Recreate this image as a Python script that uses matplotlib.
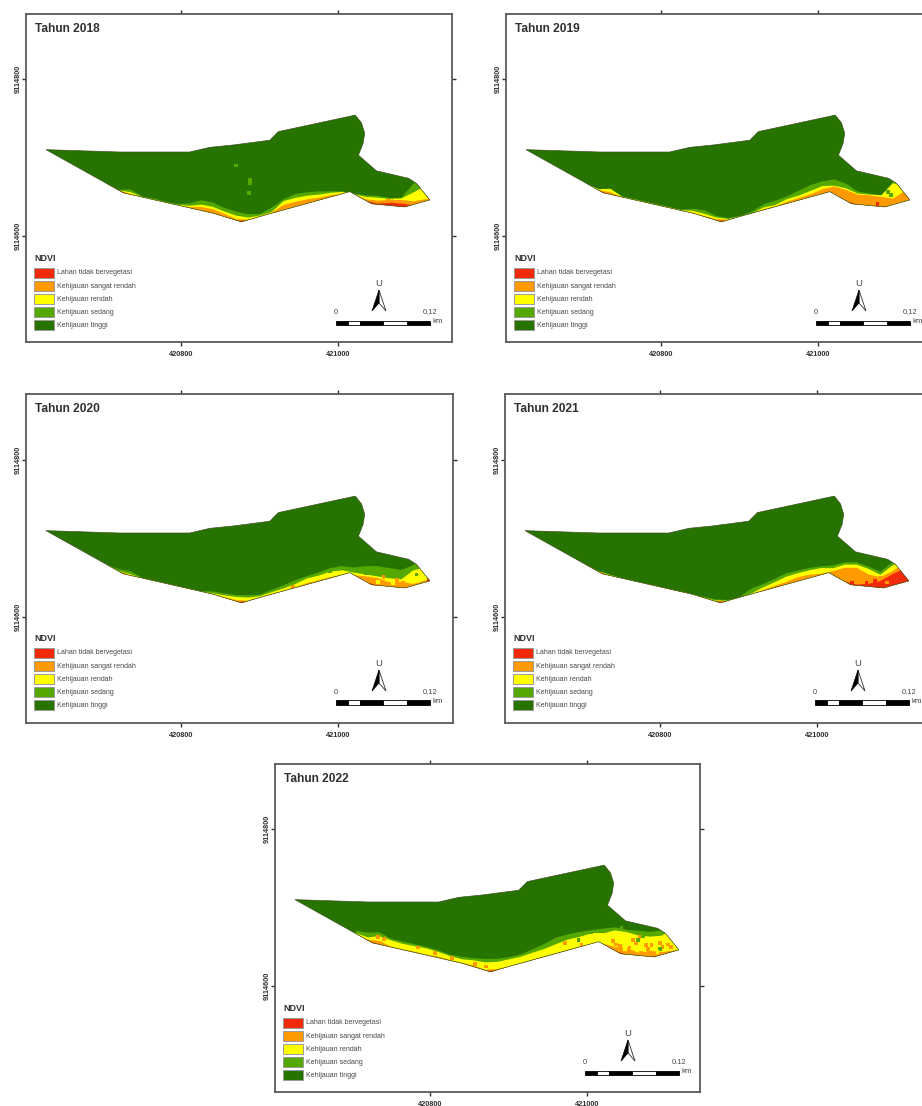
import numpy as np
import matplotlib
matplotlib.use("Agg")
import matplotlib.pyplot as plt
from matplotlib.patches import Polygon, Rectangle

plt.rcParams['font.family'] = ['Liberation Sans', 'DejaVu Sans']

W, H = 922, 1106
E0, N0 = 420000, 9114000

# Site boundary, map metres relative to E0 / N0
boundary_E = [628, 722, 811, 837, 867, 913, 924, 1022, 1030, 1034, 1032, 1026, 1049, 1090,
              1100, 1117, 1085, 1043, 1015, 901, 877, 841, 726.5]
boundary_N = [710, 707, 707, 713, 716, 722, 733, 754, 744, 731, 718, 703, 683, 673.5,
              667, 646, 637, 641, 656.5, 625, 618, 629, 655]
south_E = [628, 726.5, 841, 877, 901, 1015, 1043, 1085, 1117]
south_N = [710, 655, 629, 618, 625, 656.5, 641, 637, 646]

station_E = [705, 720, 735, 750, 765, 780, 795, 810, 825, 840, 855, 870, 885, 900, 915, 930, 945,
             960, 975, 990, 1005, 1020, 1035, 1050, 1065, 1080, 1095, 1110, 1125]

# Height (m) above the southern edge reached by each class, per station
med_2018 = [0, 1, 7, 1.5, 2, 1.5, 2, 6, 13.6, 14, 11.5, 11.5, 8, 4, 8, 14.4, 17, 15, 12, 8, 3.8, 1, 7, 11.5, 10, 12, 27, 30, 30]
yel_2018 = [0, 0, 3.5, .7, 1, .7, 1, 3, 8, 8.5, 7, 6.4, 3.8, 2, 2.5, 12, 12, 10.6, 8, 6, 3, 0, 5, 9, 9, 11, 16, 20, 20]
org_2018 = [0, 0, 1.3, 0, .3, 0, .3, 1.5, 5, 5.5, 4, 2, 1, 1, 1.7, 7.2, 7, 6, 4, 3, 1, 0, 2, 5.5, 7.6, 9, 5, 3.4, 3]
red_2018 = [0, 0, 0, 0, 0, 0, 0, 0, 0, 0, 0, 0, 0, 0, 0, 0, 0, 0, 0, 0, 0, 0, 0, 1.5, 4, 4.5, 0, 0, 0]

med_2019 = [0, 2, 8, 1.5, 1.5, 1.5, 1.5, 1.5, 1.5, 6, 8.5, 6, 3, 1.5, 3, 8, 8.5, 10, 13, 16, 16.5, 19, 22, 17, 16, 15, 30, 30, 30]
yel_2019 = [0, 1.5, 7.6, 1, 1, 1, 1, 1, 1, 3.4, 4, 4, 2, 1, .5, 4, 3, 6.4, 6.8, 8.5, 10.6, 11, 16, 14.4, 14.4, 15, 28, 20, 20]
org_2019 = [0, .5, 3.4, .3, .3, .3, .3, .3, .3, 1, 1.3, 2, 1, 0, .3, 1.7, 1.3, 3, 3.8, 4.2, 6.4, 10, 14, 13, 13.6, 13, 8.5, 14, 14]
red_2019 = [0] * 29

med_2020 = [0, 3, 6, 1, 1, 1, 1, 1, 1, 4, 6, 8.5, 8, 4.6, 6.4, 8, 10.6, 11.5, 12, 13.6, 11.5, 10, 20, 25, 24, 23, 27, 30, 30]
yel_2020 = [0, .5, 2, .4, .4, .4, .4, .4, .4, 1.5, 3.4, 6, 5, 2.5, 3.4, 4, 5.5, 8.5, 8, 9, 6.4, 3.4, 9.3, 12, 11, 11, 20, 20, 20]
org_2020 = [0, 0, .5, .2, .2, .2, .2, .2, .2, .5, 1, 2, 1, 1, 1, 1, 1.5, 2.5, 2, 2, 1, 0, 7, 10, 6, 8, 3, 3, 3]
red_2020 = [0] * 29

med_2021 = [0, 1, 2, .8, .8, .8, .8, .8, .8, 1, 1.5, 3, 2, 1, 7.6, 9.3, 12, 15, 14.4, 13.6, 11.5, 12.7, 25, 30, 26, 21, 30, 30, 30]
yel_2021 = [0, .5, 1.2, .4, .4, .4, .4, .4, .4, .5, .8, 1.5, 1, .5, 1.3, 5, 7.6, 10.6, 11, 10.6, 9.3, 9, 22, 27, 23, 17, 26, 30, 30]
org_2021 = [0, 0, .4, .2, .2, .2, .2, .2, .2, .2, .3, .5, .3, .2, .6, 1.7, 3, 4, 6, 5, 2, 5.5, 18, 23, 16, 14, 19, 25, 25]
red_2021 = [0, 0, 0, 0, 0, 0, 0, 0, 0, 0, 0, 0, 0, 0, 0, 0, 0, 0, 0, 0, 0, 0, 0, 1.7, 4, 9, 15, 18, 18]

med_2022 = [4, 10, 16, 11, 11, 11, 11, 10, 8, 8.5, 11.5, 15, 15, 12.7, 12, 14.4, 17, 21, 21, 20, 18, 20, 30, 32, 32, 32, 32, 30, 30]
yel_2022 = [1, 4, 11, 9, 8, 8.5, 9, 8, 6, 5.5, 8.5, 10.6, 11, 9.8, 9, 10, 10.6, 12.7, 14.4, 13.6, 14, 14, 26, 29, 26, 26, 25, 30, 30]
org_2022 = [0, 1, 5, 1, 1, 1.5, 1, 2, 1, 1, 2, 1, 2, 1, 1, 1, 1, 1, 1.5, 1, .5, 1, 5, 9, 4, 8, 4, 2, 2]
red_2022 = [0] * 29

# Isolated raster cells: easting, northing, class per year
spk_2018_E = [870, 888, 888, 887, 1064, 1070]
spk_2018_N = [690, 671, 667, 655, 645, 644]
spk_2018_C = ['med', 'med', 'med', 'med', 'org', 'org']
spk_2019_E = [1076, 1089, 1093]
spk_2019_N = [641, 656, 652]
spk_2019_C = ['red', 'med', 'med']
spk_2020_E = [1045, 1058, 1075, 1083, 1051, 1070, 1100, 1003, 990, 1036, 943, 1116]
spk_2020_N = [647, 651, 647, 643, 645, 643, 654, 662, 658, 656, 639, 647]
spk_2020_C = ['org', 'org', 'org', 'org', 'yel', 'yel', 'med', 'med', 'med', 'med', 'org', 'red']
spk_2021_E = [1063, 1074, 1089, 1045, 1081]
spk_2021_N = [644, 646, 644, 644, 650]
spk_2021_C = ['red', 'red', 'org', 'red', 'org']
spk_2022_E = [1033, 1037, 1042, 1054, 1059, 1062, 1078, 1075, 1093, 1096, 1069, 1082, 1103, 1107, 1067, 1044, 1065, 1071,
              1093, 989, 1005.5, 1048, 1069, 1090, 857, 806, 785, 734, 972, 993, 741, 828, 871]
spk_2022_N = [657, 653, 651, 649, 659, 654, 647, 652, 655, 650, 642, 652, 653, 650, 662, 674, 659, 664,
              647, 659, 668, 647, 649, 643, 628, 642, 649, 662, 655, 653, 660, 636, 625]
spk_2022_C = ['org', 'org', 'org', 'org', 'org', 'org', 'org', 'org', 'org', 'org', 'org', 'org', 'org', 'org', 'org',
              'med', 'med', 'med', 'med', 'med', 'med', 'yel', 'yel', 'yel', 'org', 'org', 'org', 'org', 'org', 'org',
              'org', 'org', 'org']

years = [2018, 2019, 2020, 2021, 2022]
heights = {2018: (med_2018, yel_2018, org_2018, red_2018), 2019: (med_2019, yel_2019, org_2019, red_2019),
           2020: (med_2020, yel_2020, org_2020, red_2020), 2021: (med_2021, yel_2021, org_2021, red_2021),
           2022: (med_2022, yel_2022, org_2022, red_2022)}
speckles = {2018: (spk_2018_E, spk_2018_N, spk_2018_C), 2019: (spk_2019_E, spk_2019_N, spk_2019_C),
            2020: (spk_2020_E, spk_2020_N, spk_2020_C), 2021: (spk_2021_E, spk_2021_N, spk_2021_C),
            2022: (spk_2022_E, spk_2022_N, spk_2022_C)}

class_labels = ['Lahan tidak bervegetasi', 'Kehijauan sangat rendah', 'Kehijauan rendah',
                'Kehijauan sedang', 'Kehijauan tinggi']
C = {'red': '#F02A0A', 'org': '#FF9A00', 'yel': '#FFFF00', 'med': '#55A800', 'dark': '#267300'}
class_colors = [C['red'], C['org'], C['yel'], C['med'], C['dark']]

x_ticks = [420800, 421000]
y_ticks = [9114600, 9114800]
bar_km = [0, 0.015, 0.03, 0.06, 0.09, 0.12]

# frame left, top, right, bottom; x px of 420800; y px of 9114800 (pixels)
layout = {2018: (26, 14, 452, 342, 181, 79),
          2019: (506, 14, 932, 342, 661, 79),
          2020: (26, 394, 453, 723, 181, 460),
          2021: (505, 394, 931, 723, 660, 460),
          2022: (275, 764, 700, 1092, 430, 829)}
SCALE = 0.785  # px per metre
TXT = '#484848'

fig = plt.figure(figsize=(W / 100, H / 100), dpi=100, facecolor='white')

for yr in years:
    l, t, r, b, tx, ty = layout[yr]
    ax = fig.add_axes([l / W, 1 - b / H, (r - l) / W, (b - t) / H])
    ax.set_xlim(420800 + (l - tx) / SCALE, 420800 + (r - tx) / SCALE)
    ax.set_ylim(9114800 - (b - ty) / SCALE, 9114800 - (t - ty) / SCALE)

    bE = E0 + np.array(boundary_E, float)
    bN = N0 + np.array(boundary_N, float)
    xy = np.column_stack([bE, bN])
    base = Polygon(xy, closed=True, fc=C['dark'], ec='none', zorder=1)
    ax.add_patch(base)

    stE = E0 + np.array(station_E, float)
    south = N0 + np.interp(station_E, south_E, south_N)
    for h, key in zip(heights[yr], ['med', 'yel', 'org', 'red']):
        coll = ax.fill_between(stE, south - 8, south + np.array(h, float), color=C[key], lw=0, zorder=2)
        coll.set_clip_path(base)

    sE, sN, sC = speckles[yr]
    pts = ax.scatter(E0 + np.array(sE, float), N0 + np.array(sN, float), c=[C[k] for k in sC],
                     s=7, marker='s', linewidths=0, zorder=3)
    pts.set_clip_path(base)
    ax.add_patch(Polygon(xy, closed=True, fc='none', ec='#3C4A20', lw=0.45, zorder=4))

    # frame and graticule ticks
    for s in ax.spines.values():
        s.set_color('#5a5a5a')
        s.set_linewidth(1.3)
    ax.set_xticks(x_ticks)
    ax.set_yticks(y_ticks)
    ax.set_xticklabels([str(v) for v in x_ticks], fontsize=5.3, fontweight='bold', color='#303030')
    ax.set_yticklabels([str(v) for v in y_ticks], fontsize=5.3, fontweight='bold', color='#303030',
                       rotation=90, va='center')
    ax.tick_params(axis='both', which='major', length=3, width=1, color='#303030', direction='out',
                   top=True, right=True)
    ax.tick_params(axis='x', pad=3.5)
    ax.tick_params(axis='y', pad=0.3)

    # pixel offsets from the frame corner -> axes fraction
    def P(dx, dy):
        return dx / (r - l), 1 - dy / (b - t)

    tf = ax.transAxes
    ax.text(*P(9, 15), f'Tahun {yr}', transform=tf, fontsize=8.6, fontweight='bold', color='#303030',
            ha='left', va='center')
    ax.text(*P(8, 244.5), 'NDVI', transform=tf, fontsize=6.5, fontweight='bold', color='#303030',
            ha='left', va='center')
    sw_w, sw_h = 20 / (r - l), 10 / (b - t)
    for i, (lab, col) in enumerate(zip(class_labels, class_colors)):
        x0, y0 = P(8, 254 + 13.1 * i + 10)
        ax.add_patch(Rectangle((x0, y0), sw_w, sw_h, transform=tf, fc=col, ec='#9a9a9a', lw=0.7, zorder=5))
        ax.text(*P(31, 259 + 13.1 * i), lab, transform=tf, fontsize=5.0, color=TXT, ha='left', va='center')

    # scale bar in map units
    bar_x = 420800 + (l + 310 - tx) / SCALE
    bar_lo, bar_hi = P(310, 311)[1], P(310, 306.5)[1]
    xf = ax.get_xaxis_transform()
    for i in range(len(bar_km) - 1):
        x0 = bar_x + bar_km[i] * 1000
        x1 = bar_x + bar_km[i + 1] * 1000
        ax.fill_between([x0, x1], [bar_lo, bar_lo], [bar_hi, bar_hi], transform=xf,
                        fc='black' if i % 2 == 0 else 'white', ec='black', lw=0.6, zorder=5)
    ax.text(*P(310, 299), '0', transform=tf, fontsize=5.4, color=TXT, ha='center', va='center')
    ax.text(*P(404, 299), '0.12', transform=tf, fontsize=5.4, color=TXT, ha='center', va='center')
    ax.text(*P(406, 307.5), 'km', transform=tf, fontsize=5.8, color=TXT, ha='left', va='center')

    # north arrow
    ax.text(*P(353, 270), 'U', transform=tf, fontsize=6.8, color=TXT, ha='center', va='center')
    tip, lft, ntc, rgt = P(353, 276), P(346, 297), P(353, 289), P(360, 297)
    ax.add_patch(Polygon([tip, rgt, ntc], closed=True, transform=tf, fc='white', ec='#303030', lw=0.6, zorder=5))
    ax.add_patch(Polygon([tip, lft, ntc], closed=True, transform=tf, fc='black', ec='black', lw=0.5, zorder=5))

fig.savefig('out.png', dpi=100, facecolor='white')
